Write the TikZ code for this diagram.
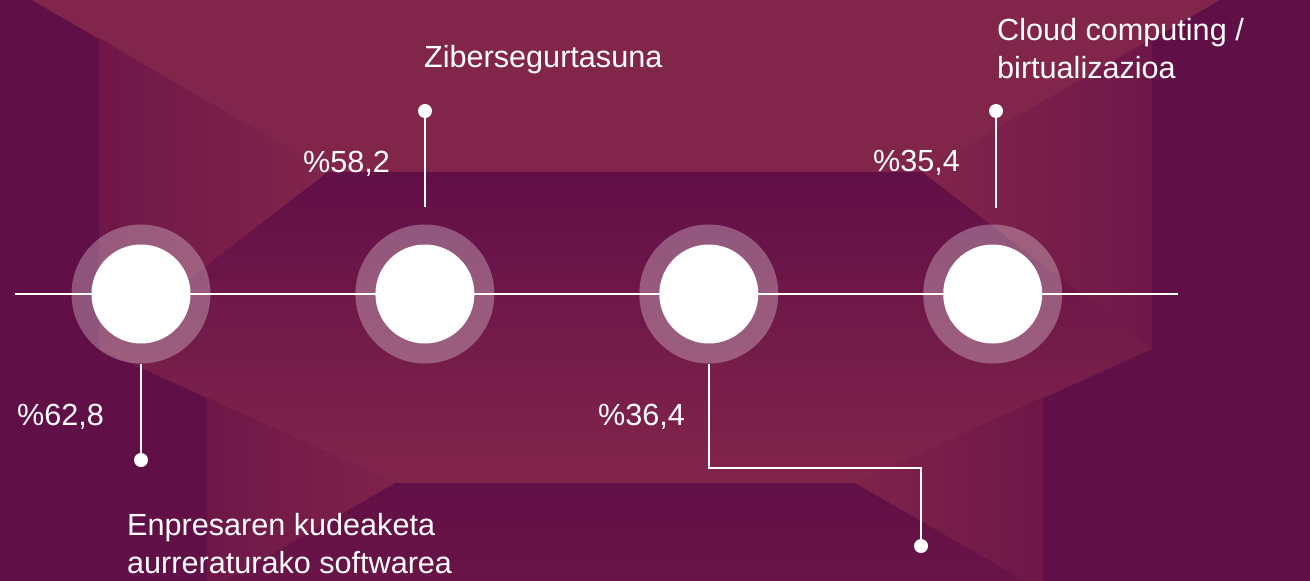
\documentclass[tikz,border=0pt]{standalone}
\usepackage{fontspec}
\setmainfont{Liberation Sans}
\usetikzlibrary{positioning}
\definecolor{plum}{HTML}{610F47}
\definecolor{plummid}{HTML}{6E1748}
\definecolor{plumlight}{HTML}{82254B}

\begin{document}
\begin{tikzpicture}[x=1pt,y=-1pt,font=\fontsize{30.6}{38}\selectfont]
    \tikzset{
        ring/.style = {circle, fill=white, fill opacity=0.29, minimum size=139pt, inner sep=0pt},
        core/.style = {circle, fill=white, minimum size=99pt, inner sep=0pt},
        dot/.style = {circle, fill=white, minimum size=14pt, inner sep=0pt},
        lead/.style = {draw=white, line width=2pt},
        pct/.style = {text=white, anchor=base west, inner sep=0pt},
        topic/.style = {text=white, anchor=base west, inner sep=0pt, align=left},
    }
    \useasboundingbox (0,0) rectangle (1310,581);
    % background facets
    \fill[plum] (0,0) rectangle (1310,581);
    \fill[plumlight] (32,0) -- (1220,0) -- (922,172) -- (328,172) -- cycle;
    \shade[left color=plummid, right color=plumlight] (99,38) -- (328,172) -- (99,349) -- cycle;
    \shade[left color=plumlight, right color=plummid] (1152,38) -- (922,172) -- (1152,349) -- cycle;
    \shade[top color=plum, bottom color=plumlight] (328,172) -- (922,172) -- (1152,349) -- (855,483) -- (395,483) -- (99,349) -- cycle;
    \shade[top color=plum, bottom color=plummid!70!plum] (395,483) -- (855,483) -- (1025,581) -- (225,581) -- cycle;
    \shade[left color=plummid, right color=plumlight!85!plummid] (207,398) -- (395,483) -- (225,581) -- (207,581) -- cycle;
    \shade[left color=plumlight!85!plummid, right color=plummid] (1043,397) -- (855,483) -- (1025,581) -- (1043,581) -- cycle;

    % time line
    \coordinate (a0) at (15,294);
    \coordinate (a1) at (1178,294);
    \draw[white, line width=2.4pt] (a0) -- (a1);

    \node[ring] (c1) at (141,294) {};
    \node[ring, right=144.5pt of c1] (c2) {};
    \node[ring, right=144.5pt of c2] (c3) {};
    \node[ring, right=144.5pt of c3] (c4) {};
    \node[core] (k1) at (c1) {};
    \node[core] (k2) at (c2) {};
    \node[core] (k3) at (c3) {};
    \node[core] (k4) at (c4) {};

    % leads
    \node[dot] (d1) at (141,460) {};
    \node[dot] (d2) at (425,111) {};
    \node[dot] (d3) at (921,546) {};
    \node[dot] (d4) at (996,111) {};
    \coordinate (t2) at (425,207);
    \coordinate (t4) at (996,208);
    \draw[lead] (c1) -- (d1);
    \draw[lead] (t2) -- (d2);
    \draw[lead] (c3.south) -- ++(0,104) -| (d3);
    \draw[lead] (t4) -- (d4);

    % texts (multi-line ones sit on their last baseline)
    \node[pct] (p1) at (17,425) {\%62,8};
    \node[pct] (p2) at (303,172) {\%58,2};
    \node[pct] (p3) at (598,425) {\%36,4};
    \node[pct] (p4) at (873,171) {\%35,4};
    \node[topic] (z1) at (127,573) {Enpresaren kudeaketa\\aurreraturako softwarea};
    \node[topic] (z2) at (424,67) {Zibersegurtasuna};
    \node[topic] (z4) at (997,78) {Cloud computing /\\birtualizazioa};
\end{tikzpicture}
\end{document}
